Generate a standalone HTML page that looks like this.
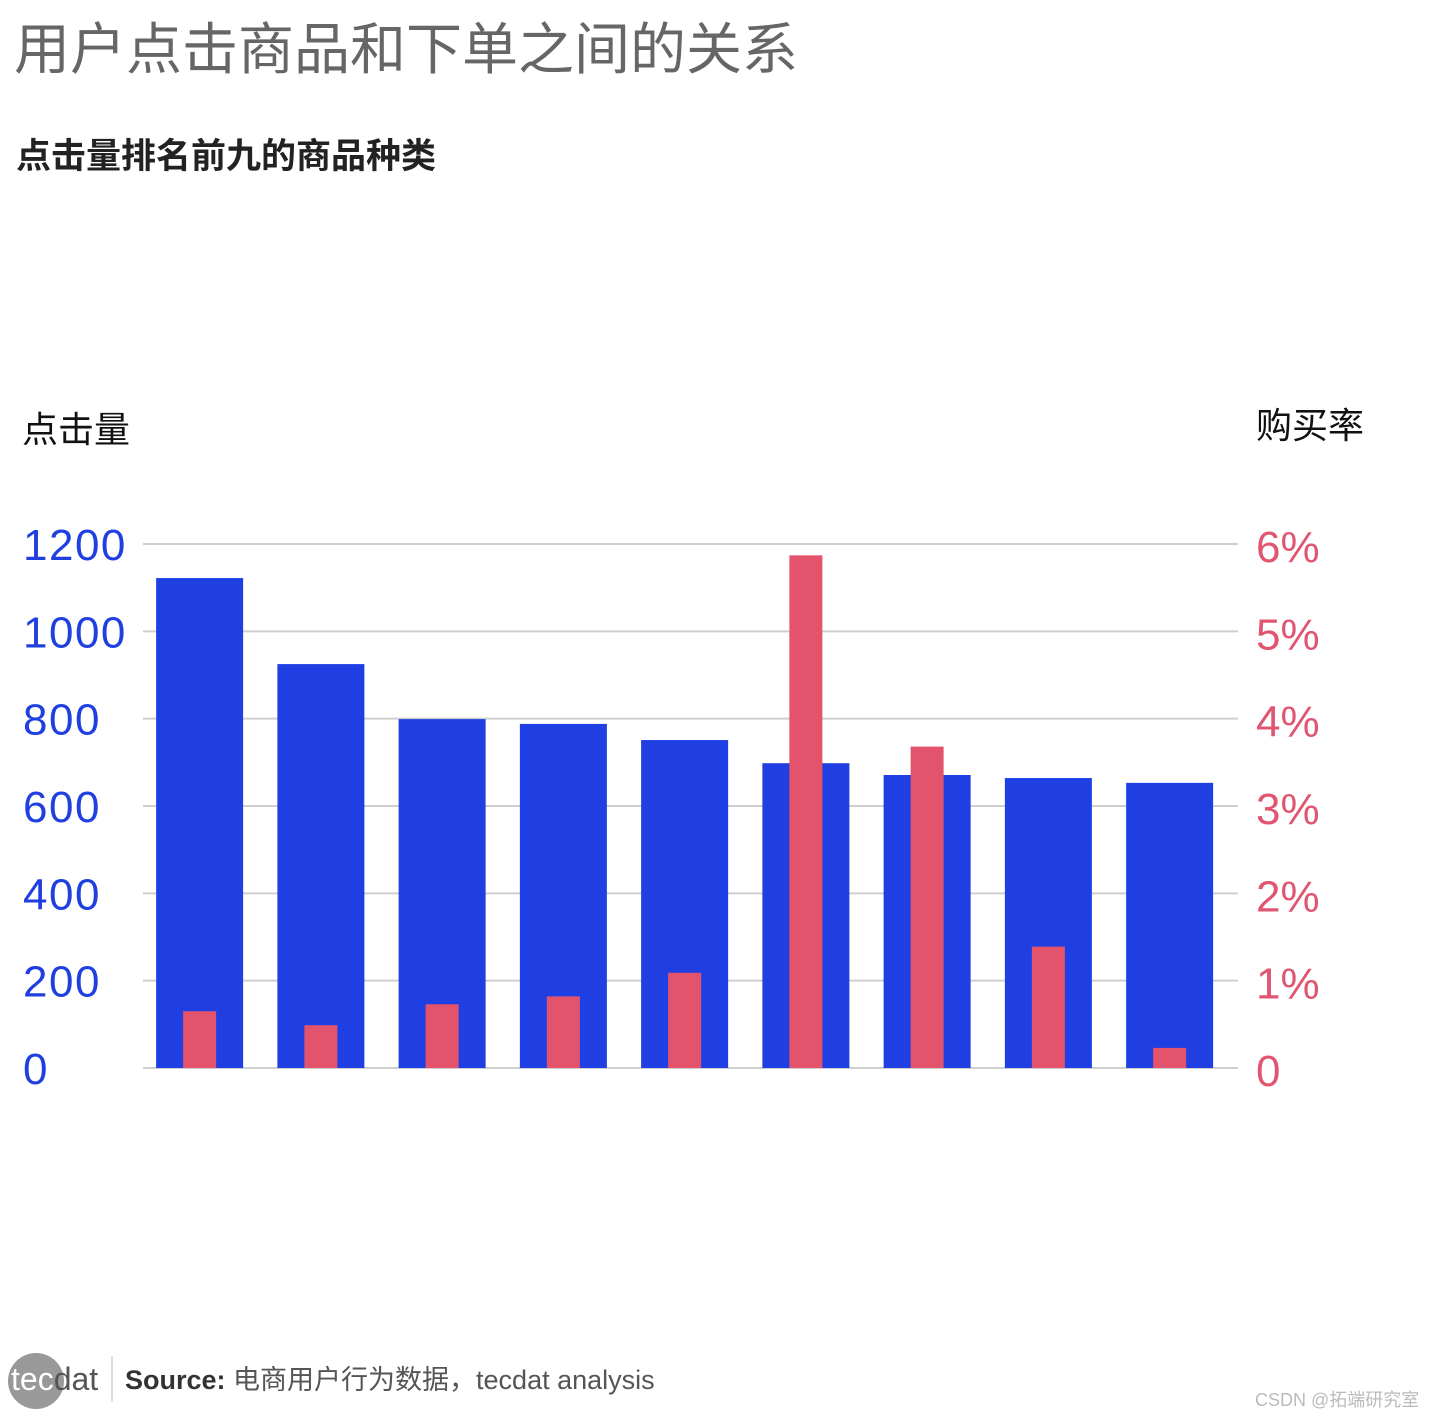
<!DOCTYPE html>
<html><head><meta charset="utf-8">
<style>
body{margin:0;width:1440px;height:1417px;background:#fff;position:relative;overflow:hidden;font-family:"Liberation Sans","Noto Sans CJK SC",sans-serif;}
.abs{position:absolute;white-space:nowrap;}
</style></head><body>
<div class="abs" style="left:14px;top:16px;font-size:56px;color:#666;line-height:68px;">用户点击商品和下单之间的关系</div>
<div class="abs" style="left:16px;top:135px;font-size:35px;color:#222;font-weight:bold;line-height:44px;">点击量排名前九的商品种类</div>
<div class="abs" style="left:22px;top:408px;font-size:36px;color:#111;line-height:44px;">点击量</div>
<div class="abs" style="left:1256px;top:404px;font-size:36px;color:#111;line-height:44px;">购买率</div>
<svg class="abs" style="left:0;top:0" width="1440" height="1417" id="chart"></svg>
<div class="abs" style="left:8px;top:1353px;width:56px;height:56px;border-radius:50%;background:#999;"></div>
<div class="abs" style="left:11px;top:1360px;font-size:32px;line-height:38px;letter-spacing:0px;"><span style="color:#fff">tec</span><span style="color:#555">dat</span></div>
<div class="abs" style="left:111px;top:1356px;width:2px;height:46px;background:#ddd;"></div>
<div class="abs" style="left:125px;top:1363px;font-size:27px;color:#555;line-height:34px;"><b style="color:#333">Source:</b> 电商用户行为数据，tecdat analysis</div>
<div class="abs" style="left:1255px;top:1386px;font-size:18px;color:#bbb;">CSDN @拓端研究室</div>
<script>
const categories=["c1","c2","c3","c4","c5","c6","c7","c8","c9"];
const clicks=[1122,925,799,788,751,698,671,664,653];
const rates=[0.65,0.49,0.73,0.82,1.09,5.87,3.68,1.39,0.23];
const leftTicks=[0,200,400,600,800,1000,1200];
const rightTicks=["0","1%","2%","3%","4%","5%","6%"];
const svg=document.getElementById('chart');
const NS="http://www.w3.org/2000/svg";
const y0=1068,yTop=544,xs=139,step=121.25;
const yL=v=>y0-(v/1200)*(y0-yTop);
const yR=v=>y0-(v/6)*(y0-yTop);
const xc=i=>xs+step*(i+0.5);
function mk(t,a){const e=document.createElementNS(NS,t);for(const k in a)e.setAttribute(k,a[k]);svg.appendChild(e);return e;}
leftTicks.forEach((t,i)=>{
  const y=yL(t);
  const g=mk('line',{x1:143,x2:1238,y1:y,y2:y,stroke:'#cfcfcf','stroke-width':2});
  
  
  const l=mk('text',{x:23,y:y+16,'font-size':44,fill:'#1f3fe0','font-family':'Liberation Sans, sans-serif','letter-spacing':1.5});
  l.textContent=t;
  
  
  const r=mk('text',{x:1256,y:y+18,'font-size':44,fill:'#e05670','font-family':'Liberation Sans, sans-serif'});
  r.textContent=rightTicks[i];
  
  
});
categories.forEach((c,i)=>{
  const b=mk('rect',{x:xc(i)-43.5,y:yL(clicks[i]),width:87,height:y0-yL(clicks[i]),fill:'#1f3fe3'});
  
  
  const r=mk('rect',{x:xc(i)-16.5,y:yR(rates[i]),width:33,height:y0-yR(rates[i]),fill:'#e3546c'});
  
  
});
</script>
</body></html>
